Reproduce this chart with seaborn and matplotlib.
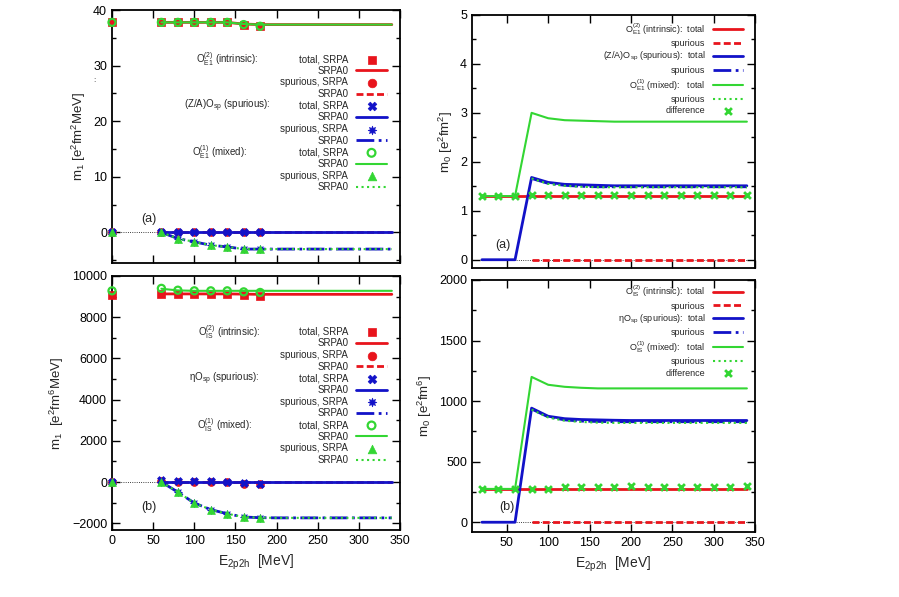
import matplotlib
matplotlib.use('Agg')
import matplotlib.pyplot as plt
import seaborn as sns
from matplotlib.ticker import MultipleLocator

# ---- data -------------------------------------------------------------
# left panels: SRPA points and SRPA0 lines
e_pts = [0, 60, 80, 100, 120, 140, 160, 180]
e_line = [60, 80, 100, 120, 140, 160, 180, 200, 220, 240, 260, 280, 300, 320, 340]

# (a) E1, m1
e1_intr_tot = [37.8, 37.8, 37.8, 37.8, 37.8, 37.8, 37.4, 37.1]
e1_intr_tot0 = [37.8, 37.8, 37.8, 37.8, 37.8, 37.5, 37.4, 37.4, 37.4, 37.4, 37.4, 37.4, 37.4, 37.4, 37.4]
e1_intr_spu = [0, 0, 0, 0, 0, 0, 0, 0]
e1_intr_spu0 = [0] * 15
e1_sp_tot = [0, 0, 0, 0, 0, 0, 0, 0]
e1_sp_tot0 = [0] * 15
e1_sp_spu = [0, 0, -1.1, -1.7, -2.3, -2.6, -3.0, -3.0]
e1_sp_spu0 = [0, -1.1, -1.7, -2.3, -2.6, -3.0, -3.0, -3.0, -3.0, -3.0, -3.0, -3.0, -3.0, -3.0, -3.0]
e1_mix_tot = [37.8, 37.8, 37.8, 37.8, 37.8, 37.8, 37.4, 37.1]
e1_mix_tot0 = [37.8, 37.8, 37.8, 37.8, 37.8, 37.5, 37.4, 37.4, 37.4, 37.4, 37.4, 37.4, 37.4, 37.4, 37.4]
e1_mix_spu = [0, 0, -1.1, -1.7, -2.3, -2.6, -3.0, -3.0]
e1_mix_spu0 = [0, -1.1, -1.7, -2.3, -2.6, -3.0, -3.0, -3.0, -3.0, -3.0, -3.0, -3.0, -3.0, -3.0, -3.0]

# (b) IS, m1
is_intr_tot = [9100, 9120, 9120, 9120, 9120, 9120, 9070, 9040]
is_intr_tot0 = [9130, 9130, 9130, 9130, 9130, 9120, 9110, 9110, 9110, 9110, 9110, 9110, 9110, 9110, 9110]
is_intr_spu = [0, 50, 0, 0, 0, 0, -80, -80]
is_intr_spu0 = [0] * 15
is_sp_tot = [0, 80, 30, 30, 30, 0, -50, -110]
is_sp_tot0 = [-20] * 15
is_sp_spu = [0, 0, -490, -1020, -1340, -1540, -1700, -1730]
is_sp_spu0 = [0, -490, -1020, -1340, -1540, -1700, -1730, -1740, -1740, -1740, -1740, -1740, -1740, -1740, -1740]
is_mix_tot = [9280, 9400, 9310, 9280, 9280, 9280, 9230, 9200]
is_mix_tot0 = [9380, 9300, 9280, 9280, 9280, 9280, 9280, 9280, 9280, 9280, 9280, 9280, 9280, 9280, 9280]
is_mix_spu = [0, 0, -490, -1020, -1340, -1540, -1700, -1730]
is_mix_spu0 = [0, -490, -1020, -1340, -1540, -1700, -1730, -1740, -1740, -1740, -1740, -1740, -1740, -1740, -1740]

# right panels: m0
e_r = [20, 40, 60, 80, 100, 120, 140, 160, 180, 200, 220, 240, 260, 280, 300, 320, 340]
e_r80 = [80, 100, 120, 140, 160, 180, 200, 220, 240, 260, 280, 300, 320, 340]

m0e1_intr_tot = [1.30] * 17
m0e1_intr_spu = [0] * 14
m0e1_sp_tot = [0, 0, 0, 1.68, 1.58, 1.54, 1.53, 1.52, 1.51, 1.51, 1.51, 1.51, 1.51, 1.51, 1.51, 1.51, 1.51]
m0e1_sp_spu = [1.66, 1.56, 1.52, 1.50, 1.49, 1.49, 1.49, 1.49, 1.49, 1.49, 1.49, 1.49, 1.49, 1.49]
m0e1_mix_tot = [1.30, 1.30, 1.30, 3.00, 2.89, 2.85, 2.84, 2.83, 2.82, 2.82, 2.82, 2.82, 2.82, 2.82, 2.82, 2.82, 2.82]
m0e1_mix_spu = [1.66, 1.55, 1.51, 1.49, 1.48, 1.48, 1.48, 1.48, 1.48, 1.48, 1.48, 1.48, 1.48, 1.48]
m0e1_diff = [1.31, 1.31, 1.31, 1.32, 1.32, 1.32, 1.32, 1.32, 1.32, 1.32, 1.32, 1.32, 1.32, 1.32, 1.32, 1.32, 1.32]

m0is_intr_tot = [275] * 17
m0is_intr_spu = [0] * 14
m0is_sp_tot = [0, 0, 0, 942, 875, 855, 848, 845, 842, 840, 840, 840, 840, 840, 840, 840, 840]
m0is_sp_spu = [935, 870, 845, 835, 832, 830, 830, 830, 830, 830, 830, 830, 830, 830]
m0is_mix_tot = [275, 275, 275, 1200, 1135, 1118, 1110, 1105, 1105, 1105, 1105, 1105, 1105, 1105, 1105, 1105, 1105]
m0is_mix_spu = [930, 865, 838, 828, 822, 820, 820, 820, 820, 820, 820, 820, 820, 820]
m0is_diff = [275, 275, 275, 275, 275, 288, 290, 290, 292, 298, 292, 293, 293, 293, 294, 294, 296]

RED = '#e8141c'
BLUE = '#1212c8'
GREEN = '#33d633'

sns.set_style('ticks')
plt.rcParams['font.family'] = ['Liberation Sans', 'DejaVu Sans']
plt.rcParams['mathtext.fontset'] = 'custom'
plt.rcParams['mathtext.rm'] = 'Liberation Sans'
plt.rcParams['mathtext.it'] = 'Liberation Sans:italic'
plt.rcParams['mathtext.bf'] = 'Liberation Sans:bold'


def style_axes(ax, xlim, ylim, ymajor, yminor):
    ax.set_xlim(*xlim)
    ax.set_ylim(*ylim)
    ax.xaxis.set_major_locator(MultipleLocator(50))
    ax.yaxis.set_major_locator(MultipleLocator(ymajor))
    ax.yaxis.set_minor_locator(MultipleLocator(yminor))
    ax.tick_params(which='both', direction='in', top=True, right=True,
                   labelsize=9, width=1, colors='black')
    ax.tick_params(which='major', length=6)
    ax.tick_params(which='minor', length=3)
    for s in ax.spines.values():
        s.set_linewidth(1.3)
        s.set_color('black')
    ax.axhline(0, color='black', lw=0.6, ls=':', zorder=0)


def draw_left(ax, groups):
    # groups: colour, markers, line styles, SRPA total/spurious, SRPA0 total/spurious
    handles, labels = [], []
    z = 3
    for (col, mk, ls, tot, tot0, spu, spu0) in groups:
        for pts, line, m, l, lab in [(tot, tot0, mk[0], ls[0], 'total, SRPA'),
                                     (spu, spu0, mk[1], ls[1], 'spurious, SRPA')]:
            if m == 'oo':
                sns.scatterplot(x=e_pts, y=pts, ax=ax, marker='o', s=26,
                                facecolor='none', edgecolor=col, linewidth=1.6,
                                zorder=z, clip_on=False)
            else:
                sns.scatterplot(x=e_pts, y=pts, ax=ax, marker=m, s=32, color=col,
                                edgecolor=col, linewidth=0.5, zorder=z, clip_on=False)
            handles.append(ax.collections[-1])
            labels.append(lab)
            z += 1
            lw = 1.5 if col == GREEN else 2
            sns.lineplot(x=e_line, y=line, ax=ax, color=col, linestyle=l, lw=lw,
                         zorder=z)
            if l == '--':
                ax.lines[-1].set_dashes((2.5, 1.2))
            handles.append(ax.lines[-1])
            labels.append('SRPA0')
            z += 1
    return handles, labels


def draw_right(ax, groups, diff):
    handles = []
    z = 3
    for (col, ls, tot, spu) in groups:
        lw = 1.5 if col == GREEN else 2
        sns.lineplot(x=e_r, y=tot, ax=ax, color=col, linestyle=ls[0], lw=lw, zorder=z)
        handles.append(ax.lines[-1])
        sns.lineplot(x=e_r80, y=spu, ax=ax, color=col, linestyle=ls[1], lw=lw, zorder=z + 1)
        if ls[1] == '--':
            ax.lines[-1].set_dashes((2.5, 1.2))
        handles.append(ax.lines[-1])
        z += 2
    sns.scatterplot(x=e_r, y=diff, ax=ax, marker='x', s=24, color=GREEN,
                    linewidth=2, zorder=z, clip_on=False)
    handles.append(ax.collections[-1])
    return handles


fig = plt.figure(figsize=(8.99, 5.97), dpi=100)
ax_a = fig.add_axes([0.1246, 0.5595, 0.3204, 0.4235])
ax_b = fig.add_axes([0.1246, 0.1122, 0.3204, 0.4255])
ax_c = fig.add_axes([0.5250, 0.5510, 0.3150, 0.4240])
ax_d = fig.add_axes([0.5250, 0.1090, 0.3150, 0.4220])

mk_red, mk_blue, mk_green = ('s', 'o'), ('X', (8, 1, 0)), ('oo', '^')
ls_red, ls_blue, ls_green = ('-', '--'), ('-', '-.'), ('-', ':')

# ---- (a) top left ----
style_axes(ax_a, (0, 350), (-5.5, 40), 10, 5)
h, l = draw_left(ax_a, [
    (RED, mk_red, ls_red, e1_intr_tot, e1_intr_tot0, e1_intr_spu, e1_intr_spu0),
    (BLUE, mk_blue, ls_blue, e1_sp_tot, e1_sp_tot0, e1_sp_spu, e1_sp_spu0),
    (GREEN, mk_green, ls_green, e1_mix_tot, e1_mix_tot0, e1_mix_spu, e1_mix_spu0)])
leg_a = ax_a.legend(h, l, loc='upper right', bbox_to_anchor=(0.955, 0.826), frameon=False,
                    markerfirst=False, fontsize=7, labelspacing=0.17, handlelength=3.2,
                    handletextpad=0.8, borderpad=0, borderaxespad=0, scatterpoints=1,
                    markerscale=1.1)
ax_a.set_xticklabels([])
ax_a.set_xlabel('')
ax_a.set_ylabel(r'm$_1$ [e$^2$fm$^2$MeV]', fontsize=9.5)
ax_a.text(45, 2.4, '(a)', fontsize=9, ha='center', va='center')
fig.text(0.105, 0.862, ':', fontsize=6, ha='center')

# ---- (b) bottom left ----
style_axes(ax_b, (0, 350), (-2330, 10000), 2000, 1000)
h, l = draw_left(ax_b, [
    (RED, mk_red, ls_red, is_intr_tot, is_intr_tot0, is_intr_spu, is_intr_spu0),
    (BLUE, mk_blue, ls_blue, is_sp_tot, is_sp_tot0, is_sp_spu, is_sp_spu0),
    (GREEN, mk_green, ls_green, is_mix_tot, is_mix_tot0, is_mix_spu, is_mix_spu0)])
leg_b = ax_b.legend(h, l, loc='upper right', bbox_to_anchor=(0.955, 0.800), frameon=False,
                    markerfirst=False, fontsize=7, labelspacing=0.17, handlelength=3.2,
                    handletextpad=0.8, borderpad=0, borderaxespad=0, scatterpoints=1,
                    markerscale=1.1)
ax_b.set_xlabel(r'E$_{\rm 2p2h}$  [MeV]', fontsize=10)
ax_b.set_ylabel(r'm$_1$  [e$^2$fm$^6$MeV]', fontsize=9.5)
ax_b.text(45, -1215, '(b)', fontsize=9, ha='center', va='center')

# ---- (c) top right ----
style_axes(ax_c, (8, 350), (-0.17, 5), 1, 0.5)
h = draw_right(ax_c, [(RED, ls_red, m0e1_intr_tot, m0e1_intr_spu),
                      (BLUE, ls_blue, m0e1_sp_tot, m0e1_sp_spu),
                      (GREEN, ls_green, m0e1_mix_tot, m0e1_mix_spu)], m0e1_diff)
lab_c = [r'O$_{\rm E1}^{(2)}$ (intrinsic):  total', 'spurious',
         r'(Z/A)O$_{\rm sp}$ (spurious):  total', 'spurious',
         r'O$_{\rm E1}^{(1)}$ (mixed):   total', 'spurious', 'difference']
ax_c.legend(h, lab_c, loc='upper right', bbox_to_anchor=(0.958, 0.975), frameon=False,
            markerfirst=False, fontsize=6.5, labelspacing=0.25, handlelength=3.4,
            handletextpad=0.8, borderpad=0, borderaxespad=0, scatterpoints=1)
ax_c.set_xticklabels([])
ax_c.set_xlabel('')
ax_c.set_ylabel(r'm$_0$ [e$^2$fm$^2$]', fontsize=9.5)
ax_c.text(45, 0.3, '(a)', fontsize=9, ha='center', va='center')

# ---- (d) bottom right ----
style_axes(ax_d, (8, 350), (-80, 2000), 500, 250)
h = draw_right(ax_d, [(RED, ls_red, m0is_intr_tot, m0is_intr_spu),
                      (BLUE, ls_blue, m0is_sp_tot, m0is_sp_spu),
                      (GREEN, ls_green, m0is_mix_tot, m0is_mix_spu)], m0is_diff)
lab_d = [r'O$_{\rm IS}^{(2)}$ (intrinsic):  total', 'spurious',
         r'ηO$_{\rm sp}$ (spurious):  total', 'spurious',
         r'O$_{\rm IS}^{(1)}$ (mixed):   total', 'spurious', 'difference']
ax_d.legend(h, lab_d, loc='upper right', bbox_to_anchor=(0.958, 0.985), frameon=False,
            markerfirst=False, fontsize=6.5, labelspacing=0.25, handlelength=3.4,
            handletextpad=0.8, borderpad=0, borderaxespad=0, scatterpoints=1)
ax_d.set_xlabel(r'E$_{\rm 2p2h}$  [MeV]', fontsize=10)
ax_d.set_ylabel(r'm$_0$ [e$^2$fm$^6$]', fontsize=9.5)
ax_d.text(50, 124, '(b)', fontsize=9, ha='center', va='center')

# group labels of the left legends, aligned with the "total, SRPA" rows
fig.canvas.draw()
group_a = [(r'O$_{\rm E1}^{(2)}$ (intrinsic):', 0.399),
           (r'(Z/A)O$_{\rm sp}$ (spurious):', 0.401),
           (r'O$_{\rm E1}^{(1)}$ (mixed):', 0.375)]
group_b = [(r'O$_{\rm IS}^{(2)}$ (intrinsic):', 0.406),
           (r'ηO$_{\rm sp}$ (spurious):', 0.389),
           (r'O$_{\rm IS}^{(1)}$ (mixed):', 0.392)]
for ax, leg, group in [(ax_a, leg_a, group_a), (ax_b, leg_b, group_b)]:
    texts = leg.get_texts()
    for (txt, xc), i in zip(group, [0, 4, 8]):
        bb = texts[i].get_window_extent()
        yc = ax.transAxes.inverted().transform((0, (bb.y0 + bb.y1) / 2))[1]
        ax.text(xc, yc, txt, transform=ax.transAxes, fontsize=7, ha='center', va='center')

fig.savefig('out.png', dpi=100)
